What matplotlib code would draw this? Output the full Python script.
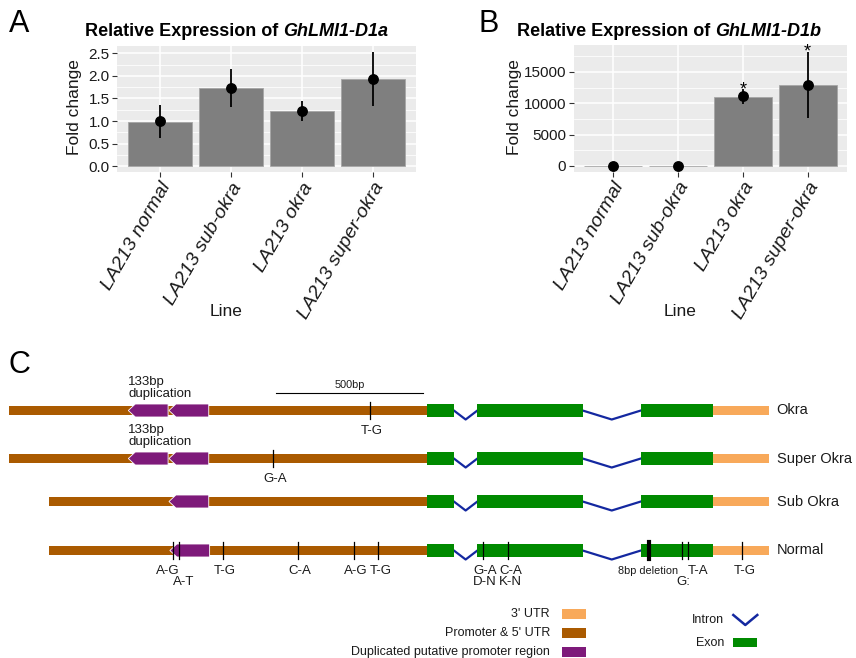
import numpy as np
import matplotlib
matplotlib.use("Agg")
import matplotlib.pyplot as plt
from matplotlib.patches import Rectangle, Polygon
from matplotlib.text import Annotation

plt.rcParams['font.family'] = ['Liberation Sans', 'DejaVu Sans']

# ---- panel A / B data (fold change) ----
lines = ["LA213 normal", "LA213 sub-okra", "LA213 okra", "LA213 super-okra"]

d1a_bar = [0.98, 1.73, 1.22, 1.93]
d1a_mean = [1.00, 1.74, 1.23, 1.94]
d1a_lo = [0.63, 1.31, 1.00, 1.34]
d1a_hi = [1.35, 2.16, 1.45, 2.53]

d1b_bar = [1, 1, 10990, 12850]
d1b_mean = [1, 1, 11100, 12900]
d1b_lo = [0, 0, 9920, 7590]
d1b_hi = [2, 2, 12210, 18200]
d1b_sig = ["", "", "*", "*"]

# ---- panel C data (gene models, positions in bp) ----
alleles = ["Okra", "Super Okra", "Sub Okra", "Normal"]
promoter_start = [0, 0, 136, 136]
promoter_end = 1420
exon_starts = [1420, 1590, 2145]
exon_ends = [1510, 1947, 2389]
utr3_end = 2581
dup_len = 135
dup_starts = [[405, 543], [405, 543], [543], [546]]
dup_note = ["133bp\nduplication", "133bp\nduplication", "", ""]

okra_snp_bp = [1226]
okra_snp_top = ["T-G"]
super_snp_bp = [897]
super_snp_top = ["G-A"]
normal_snp_bp = [556, 578, 726, 980, 1170, 1251, 1608, 1693, 2283, 2304, 2489]
normal_snp_top = ["A-G", "", "T-G", "C-A", "A-G", "T-G", "G-A", "C-A", "", "T-A", "T-G"]
normal_snp_bottom = ["", "A-T", "", "", "", "", "D-N", "K-N", "G:", "", ""]
normal_deletion_bp = 2173
scale_bar_bp = 500

# ---- layout ----
W, H = 856, 658
fig = plt.figure(figsize=(W / 100, H / 100), dpi=100)

def fx(p):
    return p / W

def fy(p):
    return 1 - p / H

BAR_GREY = '#7f7f7f'
TXT = '#1a1a1a'


def bar_panel(rect, bars, means, lo, hi, ylim, yticks, yticklabels, minor):
    left, top, right, bottom = rect
    ax = fig.add_axes([fx(left), fy(bottom), (right - left) / W, (bottom - top) / H])
    ax.set_zorder(2)
    x = np.arange(len(lines))
    ax.set_facecolor('#EBEBEB')
    ax.set_axisbelow(True)
    ax.bar(x, bars, width=0.9, color=BAR_GREY, edgecolor='#a6a6a6', lw=0.6, zorder=2)
    ax.vlines(x, lo, hi, color='black', lw=1.3, zorder=3)
    ax.plot(x, means, 'o', color='black', ms=6.8, zorder=4)
    ax.set_xlim(-0.6, len(lines) - 0.4)
    ax.set_ylim(*ylim)
    ax.set_yticks(yticks)
    ax.set_yticklabels(yticklabels, fontsize=11, color=TXT)
    ax.set_yticks(minor, minor=True)
    ax.set_xticks(x)
    ax.set_xticklabels(lines, rotation=60, ha='right', va='top', rotation_mode='anchor',
                       fontsize=14, style='italic', color=TXT)
    ax.grid(which='major', color='white', lw=1.1)
    ax.grid(which='minor', axis='y', color='white', lw=0.55)
    ax.tick_params(which='major', length=3.5, width=0.8, color='#333333', pad=2)
    ax.tick_params(which='minor', length=0)
    for s in ax.spines.values():
        s.set_visible(False)
    return ax


def title(x_left, y, gene):
    # bold text followed by the bold-italic gene name
    t = fig.text(fx(x_left), fy(y), "Relative Expression of", fontsize=13,
                 weight='bold', ha='left', va='bottom')
    a = Annotation(gene, xy=(1, 0), xycoords=t, xytext=(3.8, 0), textcoords='offset points',
                   fontsize=13, weight='bold', style='italic', ha='left', va='bottom')
    fig.add_artist(a)


axA = bar_panel((117.4, 46, 415.6, 172), d1a_bar, d1a_mean, d1a_lo, d1a_hi,
                (-0.127, 2.66), [0, 0.5, 1.0, 1.5, 2.0, 2.5],
                ["0.0", "0.5", "1.0", "1.5", "2.0", "2.5"], [0.25, 0.75, 1.25, 1.75, 2.25])
axB = bar_panel((574, 45, 846.7, 171.7), d1b_bar, d1b_mean, d1b_lo, d1b_hi,
                (-910, 19270), [0, 5000, 10000, 15000],
                ["0", "5000", "10000", "15000"], [2500, 7500, 12500, 17500])
for i, s in enumerate(d1b_sig):
    if s:
        axB.annotate(s, (i, d1b_hi[i]), xytext=(0, -3.5), textcoords='offset points',
                     ha='center', va='baseline', fontsize=13, annotation_clip=False)

title(85, 40, "GhLMI1-D1a")
title(517, 40, "GhLMI1-D1b")

fig.text(fx(75), fy(107.5), "Fold change", rotation=90, fontsize=12.5, ha='center', va='center', color=TXT)
fig.text(fx(514), fy(107.5), "Fold change", rotation=90, fontsize=12.5, ha='center', va='center', color=TXT)
fig.text(fx(226), fy(312), "Line", fontsize=12.5, ha='center', va='center', color=TXT)
fig.text(fx(680), fy(312), "Line", fontsize=12.5, ha='center', va='center', color=TXT)

fig.text(fx(9), fy(24), "A", fontsize=22, ha='left', va='center')
fig.text(fx(478), fy(24), "B", fontsize=22, ha='left', va='center')
fig.text(fx(9), fy(365), "C", fontsize=22, ha='left', va='center')

# ---- panel C ----
X0_PX = 9
PX_PER_BP = 0.2946

def bp(p):
    return (p - X0_PX) / PX_PER_BP

BROWN = '#aa5a00'
ORANGE = '#f8a95a'
GREEN = '#008a00'
PURPLE = '#7e1a7a'
BLUE = '#1428a0'

axC = fig.add_axes([0, 0, 1, 1])
axC.set_zorder(0)
axC.set_xlim(bp(0), bp(W))
axC.set_ylim(H, 0)
axC.axis('off')

ROW_Y = [410.5, 458.5, 501.5, 550.5]
PROM_H, EXON_H, UTR_H, DUP_H = 9, 13, 8.5, 13
HEAD = 7 / PX_PER_BP
MARK = 8.3
SNP_FS = 9.5


def snp(x, y, top="", bottom="", dx=2):
    axC.plot([x, x], [y - MARK, y + MARK], color='black', lw=0.9, zorder=6)
    if top:
        axC.text(x + dx / PX_PER_BP, y + 20, top, fontsize=SNP_FS, ha='center', va='center', color=TXT)
    if bottom:
        axC.text(x + dx / PX_PER_BP, y + 31.5, bottom, fontsize=SNP_FS, ha='center', va='center', color=TXT)


for i, name in enumerate(alleles):
    y = ROW_Y[i]
    for e_end, e_next in zip(exon_ends[:-1], exon_starts[1:]):
        mid = (e_end + e_next) / 2
        axC.plot([e_end, mid, e_next], [y, y + 9, y], color=BLUE, lw=1.6, zorder=1)
    axC.add_patch(Rectangle((promoter_start[i], y - PROM_H / 2), promoter_end - promoter_start[i],
                            PROM_H, color=BROWN, lw=0, zorder=2))
    axC.add_patch(Rectangle((exon_ends[-1], y - UTR_H / 2), utr3_end - exon_ends[-1],
                            UTR_H, color=ORANGE, lw=0, zorder=2))
    for s, e in zip(exon_starts, exon_ends):
        axC.add_patch(Rectangle((s, y - EXON_H / 2), e - s, EXON_H, color=GREEN, lw=0, zorder=3))
    for s in dup_starts[i]:
        pts = [(s, y), (s + HEAD, y - DUP_H / 2), (s + dup_len, y - DUP_H / 2),
               (s + dup_len, y + DUP_H / 2), (s + HEAD, y + DUP_H / 2)]
        axC.add_patch(Polygon(pts, closed=True, facecolor=PURPLE, edgecolor='white', lw=0.6, zorder=4))
    if dup_note[i]:
        n1, n2 = dup_note[i].split("\n")
        axC.text(dup_starts[i][0], y - 28.8, n1, fontsize=9.5, ha='left', va='center', color=TXT)
        axC.text(dup_starts[i][0], y - 16.2, n2, fontsize=9.5, ha='left', va='center', color=TXT)
    axC.text(bp(776.7), y, name, fontsize=10.5, ha='left', va='center', color=TXT)

for x, t in zip(okra_snp_bp, okra_snp_top):
    snp(x, ROW_Y[0], t)
for x, t in zip(super_snp_bp, super_snp_top):
    snp(x, ROW_Y[1], t)
normal_dx = [-5, 4, 2, 2, 2, 3, 2, 3, 2, 10, 2]
for x, t, b, dx in zip(normal_snp_bp, normal_snp_top, normal_snp_bottom, normal_dx):
    snp(x, ROW_Y[3], t, b, dx)
yN = ROW_Y[3]
axC.plot([normal_deletion_bp, normal_deletion_bp], [yN - MARK, yN + MARK], color='black', lw=3, zorder=6)
axC.text(normal_deletion_bp - 1.5 / PX_PER_BP, yN + 20, "8bp deletion", fontsize=7.8,
         ha='center', va='center', color=TXT)

# scale bar
sb_end = promoter_end - 14
axC.plot([sb_end - scale_bar_bp, sb_end], [393.3, 393.3], color='black', lw=0.8)
axC.text(sb_end - scale_bar_bp / 2, 385.5, f"{scale_bar_bp}bp", fontsize=7.8, ha='center', va='center', color=TXT)

# legend
leg_left = [("3' UTR", ORANGE, 614), ("Promoter & 5' UTR", BROWN, 633), ("Duplicated putative promoter region", PURPLE, 652)]
for lab, col, ly in leg_left:
    axC.text(bp(550), ly, lab, fontsize=9, ha='right', va='center', color=TXT)
    axC.add_patch(Rectangle((bp(562.3), ly - 4.8), bp(585.7) - bp(562.3), 9.6, color=col, lw=0))
axC.text(bp(724), 620, "Intron", fontsize=9, ha='right', va='center', color=TXT)
axC.plot([bp(733.3), bp(745.3), bp(757.3)], [615, 625, 615], color=BLUE, lw=1.8)
axC.text(bp(724), 642.7, "Exon", fontsize=9, ha='right', va='center', color=TXT)
axC.add_patch(Rectangle((bp(733.3), 638.3), bp(756.7) - bp(733.3), 9, color=GREEN, lw=0))

fig.savefig("out.png", dpi=100)
